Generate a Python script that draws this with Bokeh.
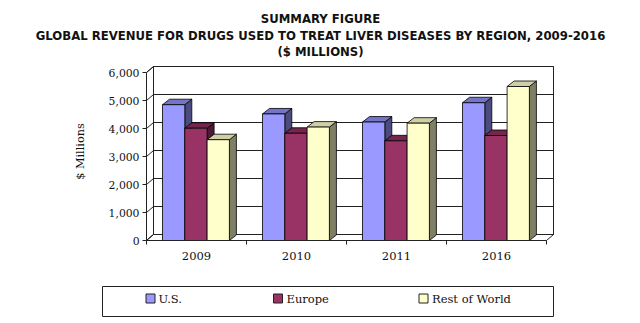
import numpy as np
from bokeh.plotting import figure
from bokeh.layouts import column
from bokeh.models import Range1d, FixedTicker, NumeralTickFormatter, LinearAxis
from bokeh.embed import file_html
from bokeh.resources import INLINE
from bokeh.core.properties import value

# ---------------- data ----------------
years = ["2009", "2010", "2011", "2016"]
series = ["U.S.", "Europe", "Rest of World"]
us = [4850, 4520, 4230, 4920]
europe = [4010, 3830, 3560, 3750]
rest = [3600, 4050, 4190, 5500]
y_ticks = [0, 1000, 2000, 3000, 4000, 5000, 6000]
title_lines = [
    "SUMMARY FIGURE",
    "GLOBAL REVENUE FOR DRUGS USED TO TREAT LIVER DISEASES BY REGION, 2009-2016",
    "($ MILLIONS)",
]
y_label = "$ Millions"

front_colors = ["#9999FF", "#993366", "#FFFFCC"]
top_colors = ["#7575C8", "#74264D", "#CFCFA6"]
side_colors = ["#4B4B80", "#4D1A33", "#7F7F66"]

values = [us, europe, rest]
n_cat = len(years)
y_max = y_ticks[-1]

# ---------------- geometry (style constants) ----------------
PX_PER_VAL = 0.028            # 28 px per 1000
WALL_DX, WALL_DY = 0.07, 6 / PX_PER_VAL
BAR_DX, BAR_DY = 0.07, 5.5 / PX_PER_VAL
GROUP_START, BAR_W = 0.16, 0.223

SERIF = "DejaVu Serif"

# ---------------- title figure ----------------
t = figure(width=640, height=62, x_range=Range1d(0, 640), y_range=Range1d(62, 0),
           min_border=0, x_axis_type=None, y_axis_type=None, outline_line_color=None,
           output_backend="svg", toolbar_location=None, frame_align=False)
t.grid.visible = False
t.text(x=[320] * 3, y=[18.5, 35, 51.5], text=title_lines, text_align="center",
       text_baseline="middle", text_font=value("DejaVu Sans"), text_font_style="bold",
       text_font_size="11.7px", text_color="#111111")

# ---------------- chart figure ----------------
p = figure(width=640, height=213, x_range=Range1d(0, n_cat + 0.1),
           y_range=Range1d(0, 178 / PX_PER_VAL),
           min_border_left=146, min_border_right=84, min_border_top=0, min_border_bottom=35,
           x_axis_type=None, y_axis_type=None, outline_line_color=None,
           output_backend="svg", toolbar_location=None, frame_align=False)
p.grid.visible = False

# walls and floor
wall_xs = [
    [WALL_DX, n_cat + WALL_DX, n_cat + WALL_DX, WALL_DX],          # back wall
    [0, WALL_DX, WALL_DX, 0],                                       # left wall
    [0, n_cat, n_cat + WALL_DX, WALL_DX],                           # floor
]
wall_ys = [
    [WALL_DY, WALL_DY, y_max + WALL_DY, y_max + WALL_DY],
    [0, WALL_DY, y_max + WALL_DY, y_max],
    [0, 0, WALL_DY, WALL_DY],
]
p.patches(wall_xs, wall_ys, fill_color="white", line_color="#222222", line_width=1)

# gridlines on left and back walls
gx = [[0, WALL_DX, n_cat + WALL_DX] for v in y_ticks]
gy = [[v, v + WALL_DY, v + WALL_DY] for v in y_ticks]
p.multi_line(gx, gy, line_color="#222222", line_width=1)

# bars (3D faces), painter's order left to right
bx, by, bc = [], [], []
for i in range(n_cat):
    for s in range(len(series)):
        h = values[s][i]
        x0 = i + GROUP_START + s * BAR_W
        x1 = x0 + BAR_W
        bx.append([x1, x1 + BAR_DX, x1 + BAR_DX, x1])          # side
        by.append([0, BAR_DY, h + BAR_DY, h])
        bc.append(side_colors[s])
        bx.append([x0, x1, x1 + BAR_DX, x0 + BAR_DX])          # top
        by.append([h, h, h + BAR_DY, h + BAR_DY])
        bc.append(top_colors[s])
        bx.append([x0, x1, x1, x0])                            # front
        by.append([0, 0, h, h])
        bc.append(front_colors[s])
p.patches(bx, by, fill_color=bc, line_color="black", line_width=0.8)

# axes
yaxis = LinearAxis(ticker=FixedTicker(ticks=y_ticks),
                   formatter=NumeralTickFormatter(format="0,0"),
                   bounds=(0, y_max), major_tick_out=4, major_tick_in=0,
                   minor_tick_out=0, minor_tick_in=0, major_label_standoff=3,
                   major_label_text_font=SERIF, major_label_text_font_size="10.8px",
                   major_label_text_color="#111111", axis_line_color="#222222",
                   major_tick_line_color="#222222")
p.add_layout(yaxis, "left")

# separate axis carrying only the axis title
label_axis = LinearAxis(ticker=FixedTicker(ticks=[]), bounds=(0, y_max),
                        axis_line_color=None, major_tick_line_color=None,
                        minor_tick_line_color=None, major_label_text_font_size="0px",
                        axis_label=y_label, axis_label_standoff=19,
                        axis_label_text_font=SERIF, axis_label_text_font_size="11.3px",
                        axis_label_text_font_style="normal", axis_label_text_color="#111111")
p.add_layout(label_axis, "left")

centers = [i + 0.5 for i in range(n_cat)]
xaxis = LinearAxis(ticker=FixedTicker(ticks=centers, minor_ticks=list(range(n_cat + 1))),
                   major_label_overrides={c: y for c, y in zip(centers, years)},
                   bounds=(0, n_cat), major_tick_out=0, major_tick_in=0,
                   minor_tick_out=4, minor_tick_in=0, major_label_standoff=7,
                   major_label_text_font=SERIF, major_label_text_font_size="11.5px",
                   major_label_text_color="#111111", axis_line_color="#222222",
                   minor_tick_line_color="#222222")
p.add_layout(xaxis, "below")

# ---------------- legend figure ----------------
l = figure(width=640, height=48, x_range=Range1d(0, 640), y_range=Range1d(48, 0),
           min_border=0, x_axis_type=None, y_axis_type=None, outline_line_color=None,
           output_backend="svg", toolbar_location=None, frame_align=False)
l.grid.visible = False
l.quad(left=[102], right=[553], top=[11], bottom=[41], fill_color="white",
       line_color="#222222", line_width=1)
l.rect(x=[150, 277.5, 423], y=[23, 23, 23], width=9, height=9,
       fill_color=front_colors, line_color="#222222", line_width=1)
l.text(x=[158, 286, 431.5], y=[23, 23, 23], text=series, text_align="left",
       text_baseline="middle", text_font=value(SERIF), text_font_size="11.5px",
       text_color="#111111")

layout = column(t, p, l, spacing=0)
open("out.html", "w").write(file_html(layout, INLINE))
